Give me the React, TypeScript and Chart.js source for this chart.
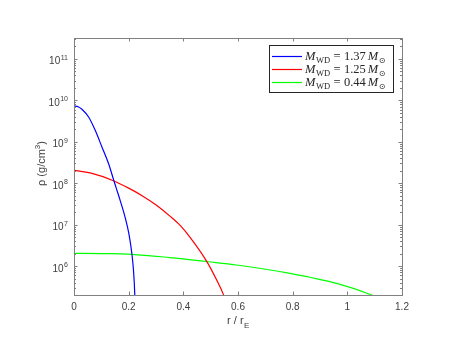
import React, { useEffect, useRef } from "react";
import { Chart, registerables } from "chart.js";

Chart.register(...registerables);

// r / r_E values and densities (g/cm^3)
const blueR = [0, 0.015, 0.029, 0.054, 0.078, 0.1025, 0.127, 0.145, 0.154, 0.168, 0.187, 0.2004, 0.2117, 0.2176, 0.2224, 0.2245];
const blueRho = [7.4e9, 7.0e9, 6.1e9, 3.9e9, 1.86e9, 7.4e8, 2.9e8, 1.2e8, 7.8e7, 4.0e7, 1.5e7, 6.2e6, 2.0e6, 7.9e5, 2.0e5, 5e4];

const redR = [0, 0.059, 0.144, 0.2, 0.2536, 0.303, 0.351, 0.39, 0.424, 0.4855, 0.522, 0.546, 0.556];
const redRho = [2.04e8, 1.77e8, 1.15e8, 7.6e7, 4.8e7, 2.9e7, 1.6e7, 9.3e6, 5.0e6, 1.3e6, 4.6e5, 2.1e5, 1.3e5];

const greenR = [0, 0.1, 0.211, 0.35, 0.491, 0.595, 0.79, 0.961, 1.089, 1.1];
const greenRho = [2.03e6, 2.0e6, 1.92e6, 1.6e6, 1.27e6, 1.06e6, 6.65e5, 3.8e5, 2.0e5, 1.85e5];

const seriesMasses = ["1.37", "1.25", "0.44"];
const seriesColors = ["#0000ff", "#ff0000", "#00ff00"];

const xTicks = [0, 0.2, 0.4, 0.6, 0.8, 1, 1.2];
const xTickLabels = ["0", "0.2", "0.4", "0.6", "0.8", "1", "1.2"];
const yExponents = [6, 7, 8, 9, 10, 11];

const X_MIN = 0;
const X_MAX = 1.2;
const Y_MIN = 2e5;
const Y_MAX = 3.2e11;

const AXIS_COLOR = "#808080";
const TEXT_COLOR = "#404040";
const SANS = "'Liberation Sans', Arial, sans-serif";
const SERIF = "'Liberation Serif', 'Times New Roman', serif";

function toPoints(xs: number[], ys: number[]) {
  return xs.map((x, i) => ({ x, y: ys[i] }));
}

const decorPlugin = {
  id: "matlabDecor",
  afterDraw(chart: any) {
    const ctx = chart.ctx as CanvasRenderingContext2D;
    const { left, right, top, bottom } = chart.chartArea;
    const xs = chart.scales.x;
    const ys = chart.scales.y;
    ctx.save();

    // box
    ctx.strokeStyle = AXIS_COLOR;
    ctx.lineWidth = 1;
    ctx.strokeRect(Math.round(left) + 0.5, Math.round(top) + 0.5, Math.round(right - left), Math.round(bottom - top));

    // x ticks
    ctx.beginPath();
    xTicks.forEach((v) => {
      const px = Math.round(xs.getPixelForValue(v)) + 0.5;
      ctx.moveTo(px, bottom);
      ctx.lineTo(px, bottom - 3.5);
      ctx.moveTo(px, top);
      ctx.lineTo(px, top + 3.5);
    });
    // y major / minor ticks
    for (let e = 5; e <= 11; e++) {
      for (let m = 1; m <= 9; m++) {
        const v = m * Math.pow(10, e);
        if (v < Y_MIN || v > Y_MAX) continue;
        const py = Math.round(ys.getPixelForValue(v)) + 0.5;
        const len = m === 1 ? 3.5 : 2;
        ctx.moveTo(left, py);
        ctx.lineTo(left + len, py);
        ctx.moveTo(right, py);
        ctx.lineTo(right - len, py);
      }
    }
    ctx.stroke();

    // x tick labels
    ctx.fillStyle = TEXT_COLOR;
    ctx.font = `10px ${SANS}`;
    ctx.textAlign = "center";
    ctx.textBaseline = "alphabetic";
    xTicks.forEach((v, i) => {
      ctx.fillText(xTickLabels[i], xs.getPixelForValue(v), bottom + 15);
    });

    // y tick labels 10^n
    yExponents.forEach((e) => {
      const py = ys.getPixelForValue(Math.pow(10, e));
      const exp = String(e);
      ctx.font = `7px ${SANS}`;
      const ew = ctx.measureText(exp).width;
      const rightEdge = left - 6;
      ctx.textAlign = "left";
      ctx.fillText(exp, rightEdge - ew, py + 1);
      ctx.font = `10px ${SANS}`;
      ctx.textAlign = "right";
      ctx.fillText("10", rightEdge - ew - 0.5, py + 5.5);
    });

    // x label "r / r_E"
    ctx.font = `11px ${SANS}`;
    const mainTxt = "r / r";
    const mw = ctx.measureText(mainTxt).width;
    ctx.font = `8px ${SANS}`;
    const sw = ctx.measureText("E").width;
    const cx = (left + right) / 2;
    const startX = cx - (mw + sw) / 2;
    ctx.textAlign = "left";
    ctx.font = `11px ${SANS}`;
    ctx.fillText(mainTxt, startX, bottom + 28.5);
    ctx.font = `8px ${SANS}`;
    ctx.fillText("E", startX + mw + 0.5, bottom + 33);

    // y label "ρ (g/cm^3)"
    ctx.save();
    ctx.translate(45, (top + bottom) / 2 - 3);
    ctx.rotate(-Math.PI / 2);
    ctx.font = `11px ${SANS}`;
    const p1 = "ρ (g/cm";
    const w1 = ctx.measureText(p1).width;
    ctx.font = `8px ${SANS}`;
    const w2 = ctx.measureText("3").width;
    ctx.font = `11px ${SANS}`;
    const w3 = ctx.measureText(")").width;
    let sx = -(w1 + w2 + w3) / 2;
    ctx.textAlign = "left";
    ctx.fillText(p1, sx, 0);
    sx += w1;
    ctx.font = `8px ${SANS}`;
    ctx.fillText("3", sx, -5);
    sx += w2;
    ctx.font = `11px ${SANS}`;
    ctx.fillText(")", sx, 0);
    ctx.restore();

    // legend
    const lx0 = 269.5;
    const lx1 = 393.5;
    const ly0 = 45.5;
    const ly1 = 92.5;
    ctx.fillStyle = "#ffffff";
    ctx.fillRect(lx0, ly0, lx1 - lx0, ly1 - ly0);
    ctx.strokeStyle = "#262626";
    ctx.lineWidth = 1;
    ctx.strokeRect(lx0, ly0, lx1 - lx0, ly1 - ly0);
    const rowY = [56, 69, 82];
    seriesMasses.forEach((mass, i) => {
      const y = rowY[i];
      ctx.strokeStyle = seriesColors[i];
      ctx.lineWidth = 1.2;
      ctx.beginPath();
      ctx.moveTo(272, y + 0.5);
      ctx.lineTo(302, y + 0.5);
      ctx.stroke();
      ctx.fillStyle = "#262626";
      ctx.textAlign = "left";
      let tx = 305;
      const base = y + 4;
      ctx.font = `italic 12.5px ${SERIF}`;
      ctx.fillText("M", tx, base);
      tx += ctx.measureText("M").width + 0.5;
      ctx.font = `8.5px ${SERIF}`;
      ctx.fillText("WD", tx, base + 2.5);
      tx += ctx.measureText("WD").width + 3.4;
      ctx.font = `12.5px ${SERIF}`;
      ctx.fillText("=", tx, base);
      tx += ctx.measureText("=").width + 3.4;
      ctx.fillText(mass, tx, base);
      tx += ctx.measureText(mass).width + 2;
      ctx.font = `italic 12.5px ${SERIF}`;
      ctx.fillText("M", tx, base);
      tx += ctx.measureText("M").width + 0.5;
      ctx.font = `8px 'DejaVu Sans', sans-serif`;
      ctx.fillText("⊙", tx, base + 2.5);
    });

    ctx.restore();
  },
};

export default function App() {
  const canvasRef = useRef<HTMLCanvasElement | null>(null);

  useEffect(() => {
    document.body.style.margin = "0";
    const canvas = canvasRef.current;
    if (!canvas) return;
    const chart = new Chart(canvas, {
      type: "line",
      data: {
        datasets: [
          { label: "1.37", data: toPoints(blueR, blueRho), borderColor: seriesColors[0] },
          { label: "1.25", data: toPoints(redR, redRho), borderColor: seriesColors[1] },
          { label: "0.44", data: toPoints(greenR, greenRho), borderColor: seriesColors[2] },
        ].map((d) => ({
          ...d,
          borderWidth: 1.2,
          pointRadius: 0,
          fill: false,
          cubicInterpolationMode: "monotone" as const,
        })),
      },
      options: {
        responsive: false,
        animation: false,
        devicePixelRatio: 1,
        layout: { padding: { left: 74, right: 48, top: 38, bottom: 51 } },
        plugins: { legend: { display: false }, tooltip: { enabled: false } },
        scales: {
          x: { type: "linear", min: X_MIN, max: X_MAX, display: false },
          y: { type: "logarithmic", min: Y_MIN, max: Y_MAX, display: false },
        },
      },
      plugins: [decorPlugin],
    });
    return () => chart.destroy();
  }, []);

  return (
    <div style={{ position: "absolute", left: 0, top: 0, width: 450, height: 346, background: "#fff" }}>
      <canvas ref={canvasRef} width={450} height={346} style={{ width: 450, height: 346 }} />
    </div>
  );
}
